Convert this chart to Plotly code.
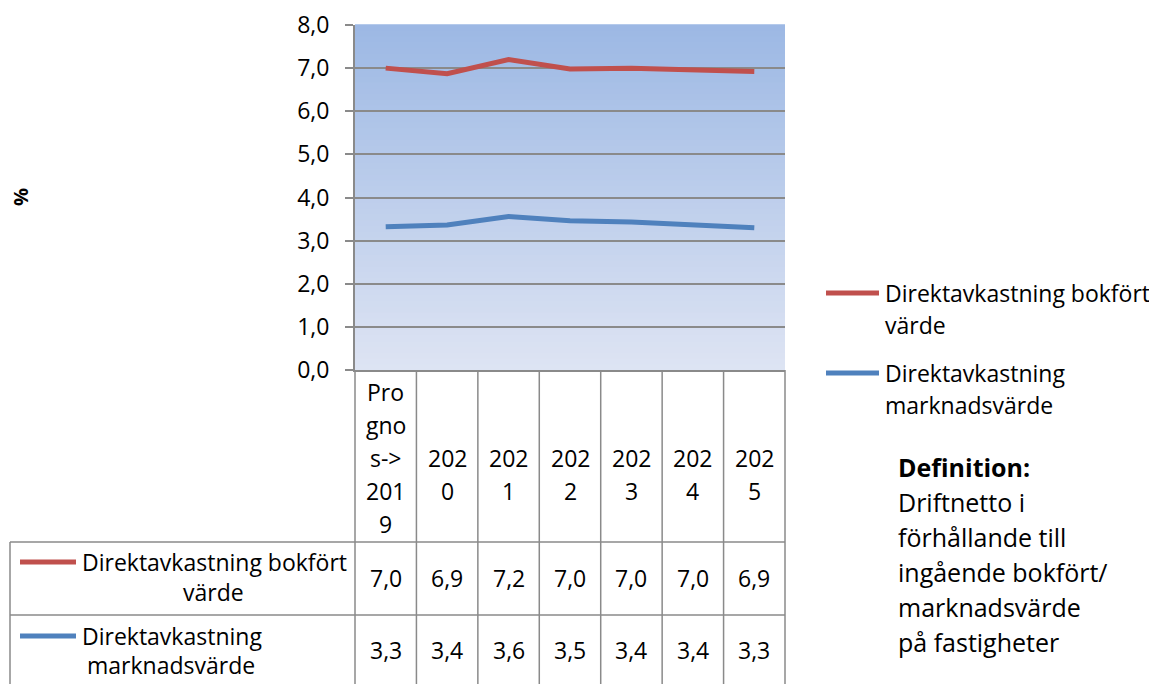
import plotly.graph_objects as go

# ---------------- data ----------------
categories = ["Prognos->2019", "2020", "2021", "2022", "2023", "2024", "2025"]
series_names = ["Direktavkastning bokfört värde", "Direktavkastning marknadsvärde"]
bokfort = [7.00, 6.87, 7.20, 6.98, 7.00, 6.96, 6.92]
marknad = [3.32, 3.36, 3.56, 3.46, 3.43, 3.37, 3.30]
series_values = [bokfort, marknad]
series_colors = ["#C0504D", "#4F81BD"]
y_ticks = [0, 1, 2, 3, 4, 5, 6, 7, 8]
y_title = "%"
definition_lines = ["Definition:", "Driftnetto i", "förhållande till",
                    "ingående bokfört/", "marknadsvärde", "på fastigheter"]

# ---------------- layout helpers ----------------
W, H = 1157, 684
OFF = 8  # page body margin of the browser
FONT = "Open Sans"
FS = 23
FS_DEF = 25
GRID = "#8A8A8A"


def px(x):
    return (x - OFF) / W


def py(y):
    return 1 - (y - OFF) / H


PL, PR, PT, PB = 355, 785, 25, 370  # plot area in pixels (reference)

fig = go.Figure()
for name, vals, col in zip(series_names, series_values, series_colors):
    fig.add_trace(go.Scatter(x=categories, y=vals, mode="lines", name=name,
                             line=dict(color=col, width=5), showlegend=False))

shapes = []
annotations = []

# gradient background of the plot area
N = 60
top_rgb = (156, 184, 228)
bot_rgb = (222, 228, 243)
for i in range(N):
    t = i / N
    c = tuple(round(bot_rgb[k] + (top_rgb[k] - bot_rgb[k]) * (t + 0.5 / N)) for k in range(3))
    shapes.append(dict(type="rect", xref="x domain", yref="y domain",
                       x0=0, x1=1, y0=t, y1=t + 1.0 / N + 0.002,
                       fillcolor="rgb(%d,%d,%d)" % c, line=dict(width=0), layer="below"))

# data table
n = len(categories)
col_w = (PR - PL) / n
bounds = [PL + i * col_w for i in range(n + 1)]
HEAD_B, R1_B, R2_B = 542, 615, 720
TL = 10
line_style = dict(color=GRID, width=1.5)
for b in bounds:
    shapes.append(dict(type="line", xref="paper", yref="paper",
                       x0=px(b), x1=px(b), y0=py(PB), y1=py(R2_B), line=line_style))
shapes.append(dict(type="line", xref="paper", yref="paper",
                   x0=px(TL), x1=px(TL), y0=py(HEAD_B), y1=py(R2_B), line=line_style))
for yy in (HEAD_B, R1_B):
    shapes.append(dict(type="line", xref="paper", yref="paper",
                       x0=px(TL), x1=px(PR), y0=py(yy), y1=py(yy), line=line_style))


def chunks(s, k=3):
    return [s[i:i + k] for i in range(0, len(s), k)]


def txt(x, y, text, xanchor="center", size=FS, **kw):
    annotations.append(dict(x=px(x), y=py(y), xref="paper", yref="paper", text=text,
                            showarrow=False, xanchor=xanchor, yanchor="middle",
                            font=dict(family=FONT, size=size, color="black"), **kw))


LS = 33
for i, cat in enumerate(categories):
    lines = chunks(cat)
    m = len(lines)
    center = 458 + (5 - m) * 5.5
    y0 = center - (m - 1) * LS / 2
    cx = (bounds[i] + bounds[i + 1]) / 2
    for j, ln in enumerate(lines):
        txt(cx, y0 + j * LS, ln)

row_centers = [578, 650]
for r, vals in enumerate(series_values):
    for i, v in enumerate(vals):
        cx = (bounds[i] + bounds[i + 1]) / 2
        txt(cx, row_centers[r], ("%.1f" % v).replace(".", ","))

# table row labels (legend keys)
row_label_lines = [[562, 592], [636, 665]]
row_label_centers = [213, 171]
for r, name in enumerate(series_names):
    parts = name.rsplit(" ", 1)
    ly = row_label_lines[r]
    shapes.append(dict(type="line", xref="paper", yref="paper",
                       x0=px(20), x1=px(76), y0=py(ly[0]), y1=py(ly[0]),
                       line=dict(color=series_colors[r], width=5)))
    txt(80, ly[0], parts[0], xanchor="left")
    txt(row_label_centers[r], ly[1], parts[1])

# right-side legend
leg_lines = [[293, 325], [373, 405]]
for r, name in enumerate(series_names):
    parts = name.rsplit(" ", 1)
    ly = leg_lines[r]
    shapes.append(dict(type="line", xref="paper", yref="paper",
                       x0=px(826), x1=px(879), y0=py(ly[0]), y1=py(ly[0]),
                       line=dict(color=series_colors[r], width=5)))
    for j, t in enumerate(parts):
        txt(883, ly[j], t, xanchor="left")

# definition text
for j, t in enumerate(definition_lines):
    txt(896, 467 + j * 35, "<b>%s</b>" % t if j == 0 else t, xanchor="left", size=FS_DEF)

# y-axis title
txt(20, 197, "<b>%s</b>" % y_title, size=20, textangle=-90)

fig.update_layout(
    width=W, height=H,
    margin=dict(l=0, r=0, t=0, b=0, autoexpand=False),
    paper_bgcolor="white", plot_bgcolor="rgba(0,0,0,0)",
    separators=", ",
    font=dict(family=FONT, size=FS, color="black"),
    shapes=shapes, annotations=annotations,
    xaxis=dict(domain=[px(PL), px(PR)], range=[-0.5, n - 0.5], showticklabels=False,
               showgrid=False, zeroline=False, showline=True, linecolor=GRID, linewidth=2,
               ticks="", automargin=False),
    yaxis=dict(domain=[py(PB), py(PT)], range=[0, 8], tickvals=y_ticks, tickformat=".1f",
               showgrid=True, gridcolor=GRID, gridwidth=1.5, zeroline=False,
               showline=True, linecolor=GRID, linewidth=2,
               ticks="outside", ticklen=8, tickcolor=GRID, tickwidth=1.5,
               ticklabelstandoff=11, automargin=False,
               tickfont=dict(family=FONT, size=FS, color="black")),
)

fig.write_html("out.html")
